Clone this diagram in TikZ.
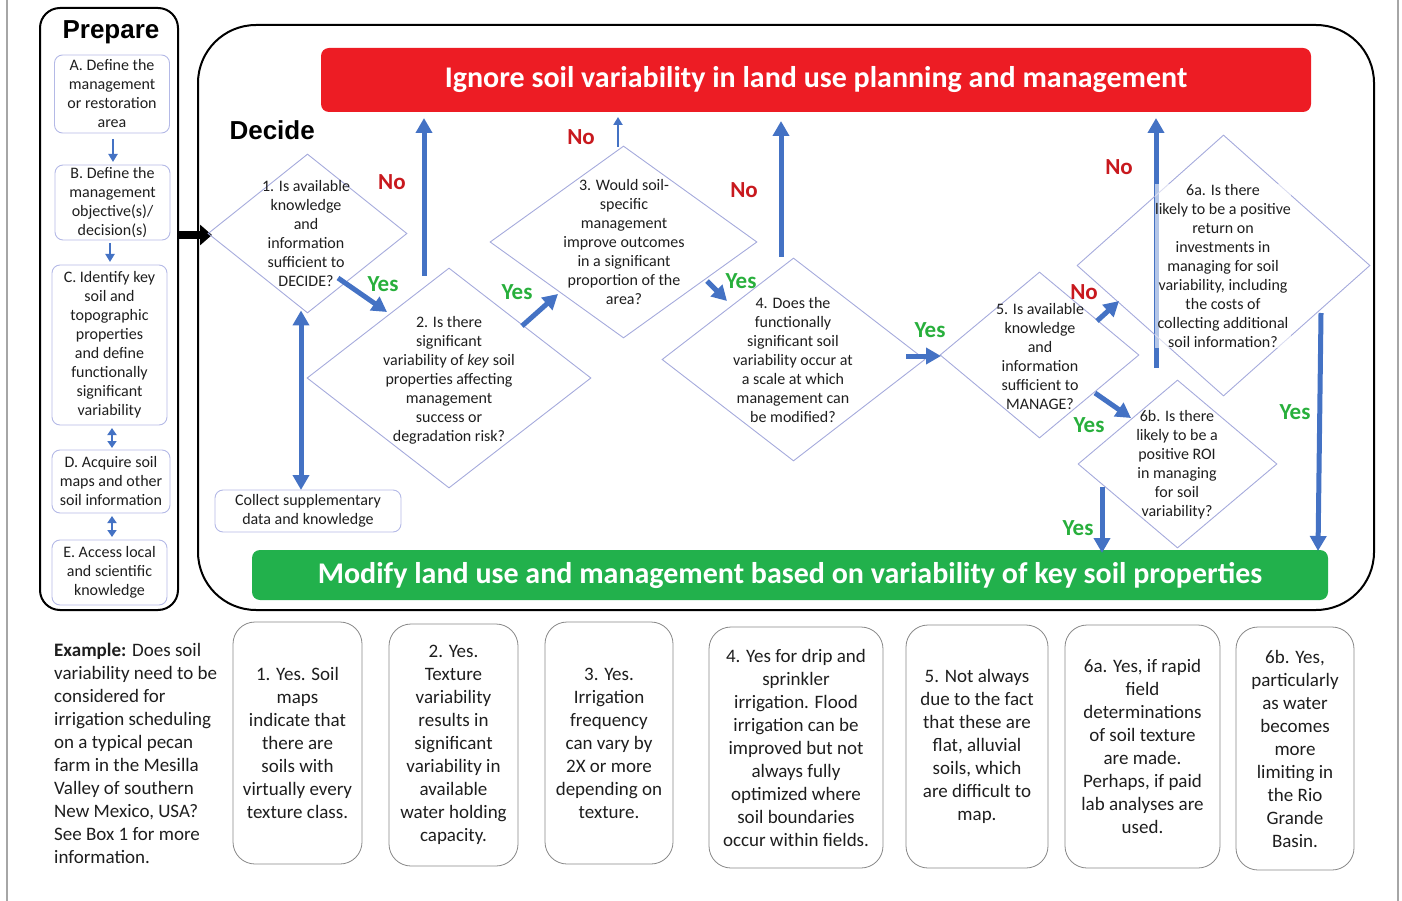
\documentclass[tikz,border=0pt]{standalone}
\usepackage{fontspec}
\setmainfont{Carlito}
\newfontfamily\headfont{Liberation Sans}
\usetikzlibrary{shapes.geometric,arrows.meta}
\definecolor{arrblue}{RGB}{68,114,196}
\definecolor{dline}{RGB}{165,170,220}
\definecolor{pline}{RGB}{180,185,230}
\definecolor{redbar}{RGB}{237,28,36}
\definecolor{greenbar}{RGB}{34,177,76}
\definecolor{yesgreen}{RGB}{40,175,60}
\definecolor{nored}{RGB}{200,25,30}
\definecolor{boxgray}{RGB}{135,135,135}
\definecolor{txt}{RGB}{30,30,30}
\tikzset{
  dia/.style={draw=dline, line width=0.9pt, shape=diamond, inner sep=0pt},
  dtext/.style={align=center, text=txt, font=\fontsize{16}{19}\selectfont, inner sep=0pt},
  pbox/.style={draw=pline, line width=0.9pt, rounded corners=8pt, align=center, text=txt, font=\fontsize{16}{19}\selectfont, inner sep=0pt},
  bbox/.style={draw=boxgray, line width=0.8pt, rounded corners=22pt, align=center, text=txt, font=\fontsize{19}{23}\selectfont, inner sep=0pt},
  bigarrow/.style={draw=arrblue, line width=5pt, -{Triangle[length=15pt,width=16pt]}},
  bigdouble/.style={draw=arrblue, line width=5pt, {Triangle[length=15pt,width=16pt]}-{Triangle[length=15pt,width=16pt]}},
  smallarrow/.style={draw=arrblue, line width=2.5pt, -{Triangle[length=8pt,width=9pt]}},
  smalldouble/.style={draw=arrblue, line width=2.5pt, {Triangle[length=7pt,width=9pt]}-{Triangle[length=7pt,width=9pt]}},
  yeslab/.style={text=yesgreen, font=\fontsize{23}{23}\selectfont\bfseries, inner sep=0pt},
  nolab/.style={text=nored, font=\fontsize{23}{23}\selectfont\bfseries, inner sep=0pt},
  bartext/.style={text=white, font=\fontsize{30}{32}\selectfont\bfseries}
}
\begin{document}
\begin{tikzpicture}[x=1pt,y=-1pt]
\useasboundingbox (0,0) rectangle (1402,901);
% page edges
\draw[gray!70, line width=1.5pt] (7,0) -- (7,901);
\draw[gray!70, line width=1.5pt] (1398,0) -- (1398,901);

% Prepare column
\node[draw, line width=2pt, rounded corners=20pt, minimum width=138pt, minimum height=602pt, inner sep=0pt] (prep) at (109,309) {};
\node[font=\headfont\fontsize{26}{28}\selectfont\bfseries] (preptitle) at (111,32) {Prepare};
\node[pbox, minimum width=115pt, minimum height=78pt] (pa) at (112,94) {A. Define the\\management\\or restoration\\area};
\node[pbox, minimum width=115pt, minimum height=75pt] (pb) at (112.5,202.5) {B. Define the\\management\\objective(s)/\\decision(s)};
\node[pbox, minimum width=115pt, minimum height=160pt] (pc) at (109.5,345) {C. Identify key\\soil and\\topographic\\properties\\and define\\functionally\\significant\\variability};
\node[pbox, minimum width=118pt, minimum height=63pt] (pd) at (111,481.5) {D. Acquire soil\\maps and other\\soil information};
\node[pbox, minimum width=115pt, minimum height=65pt] (pe) at (109.5,572.5) {E. Access local\\and scientific\\knowledge};
\draw[smallarrow, shorten <=6pt, shorten >=3pt] (113,133) -- (113,165);
\draw[smallarrow, shorten <=3pt, shorten >=3pt] (110,240) -- (110,265);
\draw[smalldouble, shorten <=3pt, shorten >=2pt] (112,425) -- (112,450);
\draw[smalldouble, shorten <=3pt, shorten >=3pt] (112,513) -- (112,540);

% Decide frame
\node[draw, line width=2pt, rounded corners=58pt, minimum width=1176pt, minimum height=585pt, inner sep=0pt] (decide) at (786,317.5) {};
\node[font=\headfont\fontsize{26}{28}\selectfont\bfseries, anchor=west] (decidetitle) at (226,130) {Decide};
\coordinate (ps) at (178,235);
\coordinate (pt) at (212,235);
\draw[line width=8pt, -{Triangle[length=12pt,width=20pt]}] (ps) -- (pt);

% bars
\node[fill=redbar, rounded corners=8pt, minimum width=990pt, minimum height=64pt, inner sep=0pt] (ignore) at (816,80) {};
\node[bartext] at (ignore) {Ignore soil variability in land use planning and management};
\node[fill=greenbar, rounded corners=8pt, minimum width=1076pt, minimum height=50pt, inner sep=0pt] (modify) at (790,575) {};
\node[bartext] at (modify) {Modify land use and management based on variability of key soil properties};

% 6a No arrow (behind diamond 6a)
\coordinate (n6s) at (1156,368);
\coordinate (n6t) at (1156,118);
\draw[bigarrow] (n6s) -- (n6t);

% diamonds
\node[dia, minimum width=199pt, minimum height=159pt] (d1) at (307.5,233.5) {};
\node[dia, minimum width=284pt, minimum height=220pt] (d2) at (449,378) {};
\node[dia, minimum width=267pt, minimum height=192pt] (d3) at (623.5,242) {};
\node[dia, minimum width=263pt, minimum height=203pt] (d4) at (793.5,359.5) {};
\node[dia, minimum width=199pt, minimum height=166pt] (d5) at (1039.5,355) {};
\node[dia, minimum width=293pt, minimum height=261pt] (d6a) at (1223.5,265.5) {};
\node[dia, minimum width=199pt, minimum height=168pt] (d6b) at (1177.5,464) {};

\node[dtext] at (306,234) {1. Is available\\knowledge\\and\\information\\sufficient to\\DECIDE?};
\node[dtext] at (449,380) {2. Is there\\significant\\variability of \emph{key} soil\\properties affecting\\management\\success or\\degradation risk?};
\node[dtext] at (624,242.5) {3. Would soil-\\specific\\management\\improve outcomes\\in a significant\\proportion of the\\area?};
\node[dtext] at (793,360) {4. Does the\\functionally\\significant soil\\variability occur at\\a scale at which\\management can\\be modified?};
\node[dtext] at (1040,356) {5. Is available\\knowledge\\and\\information\\sufficient to\\MANAGE?};
\node[dtext, fill=white, fill opacity=0.6, text opacity=1] at (1223,266) {6a. Is there\\likely to be a positive\\return on\\investments in\\managing for soil\\variability, including\\the costs of\\collecting additional\\soil information?};
\node[dtext] at (1177,465) {6b. Is there\\likely to be a\\positive ROI\\in managing\\for soil\\variability?};

% collect box
\node[pbox, minimum width=186pt, minimum height=42pt] (collect) at (308,511) {Collect supplementary\\data and knowledge};
\draw[bigdouble] (d1.south -| 301,0) ++(0,-3) -- (301,490);

% arrows with coordinates
\coordinate (a1s) at (338,278); \coordinate (a1t) at (387,312);
\draw[bigarrow] (a1s) -- (a1t);
\coordinate (a2s) at (424,276); \coordinate (a2t) at (424,118);
\draw[bigarrow] (a2s) -- (a2t);
\coordinate (a3s) at (522,326); \coordinate (a3t) at (558,294);
\draw[bigarrow] (a3s) -- (a3t);
\coordinate (a4s) at (618,147); \coordinate (a4t) at (618,117);
\draw[smallarrow] (a4s) -- (a4t);
\coordinate (a5s) at (707,281); \coordinate (a5t) at (727,301);
\draw[bigarrow] (a5s) -- (a5t);
\coordinate (a6s) at (781,257); \coordinate (a6t) at (781,121);
\draw[bigarrow] (a6s) -- (a6t);
\coordinate (a7s) at (906,356); \coordinate (a7t) at (941,356);
\draw[bigarrow] (a7s) -- (a7t);
\coordinate (a8s) at (1097,321); \coordinate (a8t) at (1119,301);
\draw[bigarrow] (a8s) -- (a8t);
\coordinate (a9s) at (1095,393); \coordinate (a9t) at (1131,418);
\draw[bigarrow] (a9s) -- (a9t);
\coordinate (a10s) at (1321,313); \coordinate (a10t) at (1318,551);
\draw[bigarrow] (a10s) -- (a10t);
\coordinate (a11s) at (1102,487); \coordinate (a11t) at (1102,553);
\draw[bigarrow] (a11s) -- (a11t);

% labels
\node[yeslab] (l1) at (383,284) {Yes};
\node[nolab] (l2) at (392,182) {No};
\node[yeslab] (l3) at (517,292) {Yes};
\node[nolab] (l4) at (581,137) {No};
\node[yeslab] (l5) at (741,281) {Yes};
\node[nolab] (l6) at (744,190) {No};
\node[yeslab] (l7) at (930,330) {Yes};
\node[nolab] (l8) at (1084,292) {No};
\node[yeslab] (l9) at (1089,425) {Yes};
\node[nolab] (l10) at (1119,167) {No};
\node[yeslab] (l11) at (1295,412) {Yes};
\node[yeslab] (l12) at (1078,528) {Yes};

% example text
\node[anchor=north west, align=left, text=txt, font=\fontsize{19}{23}\selectfont, inner sep=0pt] (example) at (54,643) {\textbf{Example:} Does soil\\variability need to be\\considered for\\irrigation scheduling\\on a typical pecan\\farm in the Mesilla\\Valley of southern\\New Mexico, USA?\\See Box 1 for more\\information.};

% bottom boxes
\node[bbox, minimum width=129pt, minimum height=242pt] (b1) at (297.5,743) {1. Yes. Soil\\maps\\indicate that\\there are\\soils with\\virtually every\\texture class.};
\node[bbox, minimum width=129pt, minimum height=242pt] (b2) at (453.5,745) {2. Yes.\\Texture\\variability\\results in\\significant\\variability in\\available\\water holding\\capacity.};
\node[bbox, minimum width=128pt, minimum height=242pt] (b3) at (609,743) {3. Yes.\\Irrigation\\frequency\\can vary by\\2X or more\\depending on\\texture.};
\node[bbox, minimum width=174pt, minimum height=241pt] (b4) at (796,747.5) {4. Yes for drip and\\sprinkler\\irrigation. Flood\\irrigation can be\\improved but not\\always fully\\optimized where\\soil boundaries\\occur within fields.};
\node[bbox, minimum width=142pt, minimum height=243pt] (b5) at (977,746.5) {5. Not always\\due to the fact\\that these are\\flat, alluvial\\soils, which\\are difficult to\\map.};
\node[bbox, minimum width=155pt, minimum height=243pt] (b6a) at (1142.5,746.5) {6a. Yes, if rapid\\field\\determinations\\of soil texture\\are made.\\Perhaps, if paid\\lab analyses are\\used.};
\node[bbox, minimum width=118pt, minimum height=243pt] (b6b) at (1295,748.5) {6b. Yes,\\particularly\\as water\\becomes\\more\\limiting in\\the Rio\\Grande\\Basin.};
\end{tikzpicture}
\end{document}
